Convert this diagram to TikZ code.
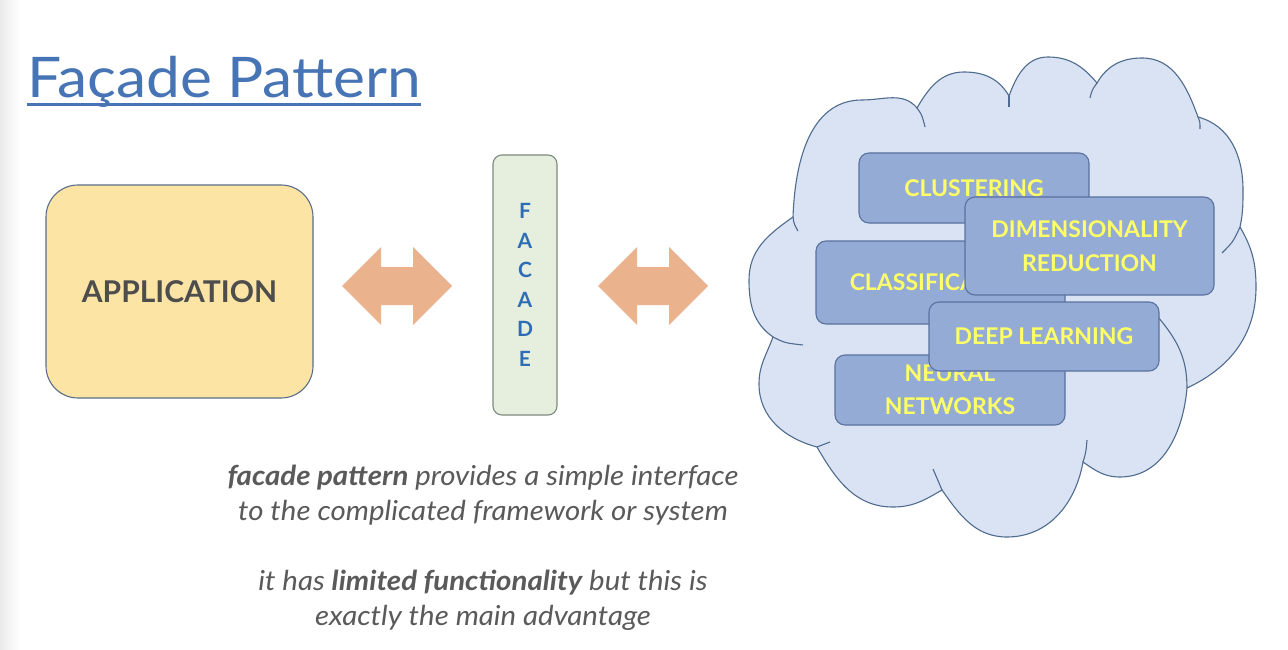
\documentclass[tikz,border=0pt]{standalone}
\usepackage{fontspec}
\setmainfont{Lato}
\newfontfamily\titlefont{Lato}[FakeStretch=1.08]
\newfontfamily\bodyfont{Lato}[FakeStretch=1.07]
\usetikzlibrary{calc}
\definecolor{titleblue}{HTML}{4674B4}
\definecolor{appfill}{HTML}{FCE5A4}
\definecolor{appborder}{HTML}{5A6E88}
\definecolor{apptext}{HTML}{4D4D4D}
\definecolor{facfill}{HTML}{E6EFDE}
\definecolor{facborder}{HTML}{7F8A80}
\definecolor{facblue}{HTML}{2E6DB4}
\definecolor{arrowfill}{HTML}{EAB38E}
\definecolor{cloudfill}{HTML}{DAE3F3}
\definecolor{cloudborder}{HTML}{4F6B8F}
\definecolor{mlfill}{HTML}{94ABD6}
\definecolor{mlborder}{HTML}{5A729E}
\definecolor{mlyellow}{HTML}{FFFF66}
\definecolor{bodygray}{HTML}{5A5A5A}
\begin{document}
\begin{tikzpicture}[x=1pt,y=1pt,
  appbox/.style={draw=appborder, fill=appfill, rounded corners=32pt, line width=1.1pt,
    minimum width=267pt, minimum height=213pt, inner sep=0pt,
    font=\fontsize{30}{34}\selectfont\bfseries, text=apptext},
  facadebox/.style={draw=facborder, fill=facfill, rounded corners=9pt, line width=1.1pt,
    minimum width=64pt, minimum height=260pt, inner sep=0pt, align=center,
    font=\fontsize{21}{29.6}\selectfont\bfseries, text=facblue},
  blockarrow/.style={fill=arrowfill, draw=none},
  cloudshape/.style={fill=cloudfill, draw=cloudborder, line width=1.1pt},
  crease/.style={draw=cloudborder, line width=1.1pt},
  mlbox/.style={draw=mlborder, fill=mlfill, rounded corners=10pt, line width=1.1pt,
    inner sep=0pt, align=center, font=\fontsize{23}{34}\selectfont\bfseries, text=mlyellow},
  bodytext/.style={anchor=base, inner sep=0pt, font=\bodyfont\fontsize{27.5}{30}\selectfont\itshape, text=bodygray}
]
\useasboundingbox (0,0) rectangle (1288,-650);
\fill[white] (0,0) rectangle (1288,-650);
\shade[left color=black!8, right color=white] (0,0) rectangle (20,-650);

% title
\node[anchor=base west, inner sep=0pt, font=\titlefont\fontsize{56}{62}\selectfont, text=titleblue] (title) at (27,-98) {Façade Pattern};
\draw[titleblue, line width=3pt] ($(title.base west)+(0,-7)$) -- ($(title.base east)+(0,-7)$);

% application
\node[appbox] (app) at (179.5,-291.5) {APPLICATION};

% arrows
\fill[blockarrow] (342,-286) -- (381,-247) -- (381,-267) -- (413,-267) -- (413,-247) -- (452,-286)
  -- (413,-325) -- (413,-305) -- (381,-305) -- (381,-325) -- cycle;
\fill[blockarrow] (598,-286) -- (637,-247) -- (637,-267) -- (669,-267) -- (669,-247) -- (708,-286)
  -- (669,-325) -- (669,-305) -- (637,-305) -- (637,-325) -- cycle;

% facade
\node[facadebox] (facade) at (525,-285) {F\\A\\C\\A\\D\\E};

% cloud
\path[cloudshape] (793,-217)
  to[out=88,in=180] (862,-100)
  to[out=0,in=130] (917,-108)
  to[out=60,in=180] (964,-72)
  to[out=0,in=120] (1009,-96)
  to[out=70,in=180] (1048,-57)
  to[out=0,in=130] (1097,-83)
  to[out=60,in=180] (1142,-58)
  to[out=0,in=110] (1198,-117)
  to[out=-15,in=90] (1243,-190)
  to[out=-90,in=78] (1240,-227)
  to[out=-60,in=90] (1256,-287)
  to[out=-90,in=25] (1187,-388)
  to[out=-95,in=0] (1120,-477)
  to[out=180,in=-35] (1083,-462)
  to[out=-100,in=0] (1007,-537)
  to[out=180,in=-55] (942,-490)
  to[out=-150,in=0] (893,-507)
  to[out=180,in=-60] (817,-447)
  to[out=165,in=-90] (759,-384)
  to[out=90,in=-110] (773,-337)
  to[out=145,in=-90] (749,-280)
  to[out=90,in=-145] (793,-217) -- cycle;
\draw[crease] (793,-217) .. controls (794,-224) .. (798,-231);
\draw[crease] (917,-108) .. controls (922,-115) .. (925,-127);
\draw[crease] (1009,-96) .. controls (1009,-101) .. (1009,-107);
\draw[crease] (1097,-83) .. controls (1092,-90) .. (1090,-98);
\draw[crease] (1198,-117) .. controls (1200,-122) .. (1200,-129);
\draw[crease] (1240,-227) .. controls (1233,-242) .. (1222,-253);
\draw[crease] (1187,-388) to[out=90,in=-50] (1158,-317);
\draw[crease] (1083,-462) .. controls (1086,-452) .. (1087,-440);
\draw[crease] (942,-490) .. controls (937,-480) .. (933,-469);
\draw[crease] (817,-447) .. controls (823,-445) .. (830,-442);
\draw[crease] (773,-337) .. controls (785,-343) .. (803,-345);

% boxes
\node[mlbox, minimum width=230pt, minimum height=70pt] (clus) at (974,-188) {CLUSTERING};
\node[mlbox, minimum width=249pt, minimum height=83pt] (class) at (940.5,-282.5) {CLASSIFICATION};
\node[mlbox, minimum width=249pt, minimum height=98pt] (dim) at (1089.5,-246) {DIMENSIONALITY\\REDUCTION};
\node[mlbox, minimum width=230pt, minimum height=70pt, font=\fontsize{23}{33}\selectfont\bfseries] (neural) at (950,-390) {NEURAL\\NETWORKS};
\node[mlbox, minimum width=230pt, minimum height=69pt] (deep) at (1044,-336.5) {DEEP LEARNING};

% text
\node[bodytext] (t1) at (483,-485) {\textbf{facade pattern} provides a simple interface};
\node[bodytext] (t2) at (483,-520) {to the complicated framework or system};
\node[bodytext] (t3) at (483,-590) {it has \textbf{limited functionality} but this is};
\node[bodytext] (t4) at (483,-625) {exactly the main advantage};
\end{tikzpicture}
\end{document}
